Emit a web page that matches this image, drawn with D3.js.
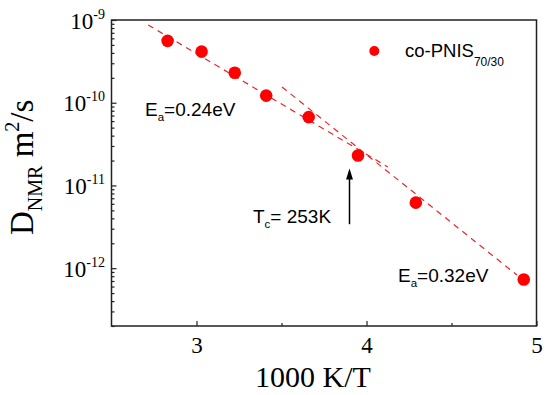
<!DOCTYPE html>
<html>
<head>
<meta charset="utf-8">
<script src="https://cdn.jsdelivr.net/npm/d3@7"></script>
<style>
  body { margin: 0; background: #fff; }
  svg { display: block; }
  .serif { font-family: 'Liberation Serif', 'Times New Roman', serif; }
  .sans { font-family: 'Liberation Sans', Arial, sans-serif; }
</style>
</head>
<body>
<svg id="chart" width="550" height="395"></svg>
<script>
// 1000/T values and measured diffusion coefficients (m^2/s)
const invT = [2.83, 3.03, 3.225, 3.41, 3.66, 3.95, 4.29, 4.925]
const dNMR = [5.6e-10, 4.15e-10, 2.3e-10, 1.22e-10, 6.7e-11, 2.3e-11, 6.2e-12, 7.3e-13]

// dashed Arrhenius fits, [1000/T, D] end points
const fitHigh = [[2.716, 8.7e-10], [4.126, 1.67e-11]]
const fitLow = [[3.503, 1.55e-10], [4.885, 8.26e-13]]

// arrow marking Tc
const arrowX = 3.9
const arrowFrom = 3.4e-12
const arrowTo = 1.6e-11

const xMajor = [3, 4, 5]
const xMinor = [3.5, 4.5]
const yExp = [-9, -10, -11, -12]

const red = '#ff0000'
const dashRed = '#e8262b'

const svg = d3.select('#chart')

const x = d3.scaleLinear().domain([2.5, 5]).range([111.5, 536.5])
const y = d3.scaleLog().domain([2e-13, 1e-9]).range([326, 20])

// minor decade ticks on y
const yMinor = []
for (let e = -13; e <= -10; e++) {
  for (let m = 2; m <= 9; m++) {
    const v = m * Math.pow(10, e)
    if (v >= 2e-13 && v <= 1e-9) yMinor.push(v)
  }
}

const axisStyle = g => {
  g.select('.domain').remove()
  g.selectAll('line').attr('stroke', '#222').attr('stroke-width', 1.2)
}

svg.append('g')
  .attr('transform', 'translate(0,326)')
  .call(d3.axisBottom(x).tickValues(xMajor).tickSize(-5).tickFormat(d3.format('d')))
  .call(axisStyle)
  .call(g => g.selectAll('text')
    .attr('y', 27).attr('dy', 0)
    .attr('class', 'serif')
    .attr('font-size', 23)
    .attr('fill', '#000'))

svg.append('g')
  .attr('transform', 'translate(0,326)')
  .call(d3.axisBottom(x).tickValues(xMinor).tickSize(-3).tickFormat(''))
  .call(axisStyle)

svg.append('g')
  .attr('transform', 'translate(111.5,0)')
  .call(d3.axisLeft(y).tickValues(yExp.map(e => Math.pow(10, e))).tickSize(-5).tickFormat(''))
  .call(axisStyle)

svg.append('g')
  .attr('transform', 'translate(111.5,0)')
  .call(d3.axisLeft(y).tickValues(yMinor).tickSize(-3).tickFormat(''))
  .call(axisStyle)

// y tick labels with superscript exponents
const yLabels = svg.append('g').attr('class', 'serif')
yExp.forEach(e => {
  const t = yLabels.append('text')
    .attr('x', 105)
    .attr('y', y(Math.pow(10, e)) + 8.5)
    .attr('text-anchor', 'end')
    .attr('font-size', 23)
  t.append('tspan').text('10')
  t.append('tspan').attr('font-size', 14).attr('dy', -10).text(String(e))
})

// frame
svg.append('rect')
  .attr('x', 111.5).attr('y', 20)
  .attr('width', 425).attr('height', 306)
  .attr('fill', 'none')
  .attr('stroke', '#222')
  .attr('stroke-width', 1.5)

// fits
const line = d3.line().x(d => x(d[0])).y(d => y(d[1]))
svg.selectAll('path.fit')
  .data([fitHigh, fitLow])
  .enter().append('path')
  .attr('class', 'fit')
  .attr('d', line)
  .attr('fill', 'none')
  .attr('stroke', dashRed)
  .attr('stroke-width', 1.2)
  .attr('stroke-dasharray', '6,5')

// points
svg.selectAll('circle.pt')
  .data(invT.map((v, i) => [v, dNMR[i]]))
  .enter().append('circle')
  .attr('class', 'pt')
  .attr('cx', d => x(d[0]))
  .attr('cy', d => y(d[1]))
  .attr('r', 6.3)
  .attr('fill', red)

// arrow
const ax = x(arrowX)
svg.append('line')
  .attr('x1', ax).attr('x2', ax)
  .attr('y1', y(arrowFrom)).attr('y2', y(arrowTo) + 8)
  .attr('stroke', '#000')
  .attr('stroke-width', 1.5)
svg.append('path')
  .attr('d', `M${ax},${y(arrowTo)} L${ax - 3.5},${y(arrowTo) + 11} L${ax + 3.5},${y(arrowTo) + 11} Z`)
  .attr('fill', '#000')

// annotations
const note = (px, py, main, sub, rest) => {
  const t = svg.append('text')
    .attr('class', 'sans')
    .attr('x', px).attr('y', py)
    .attr('font-size', 19)
    .attr('fill', '#000')
  t.append('tspan').text(main)
  t.append('tspan').attr('font-size', 11.5).attr('dy', 5).text(sub)
  t.append('tspan').attr('dy', -5).text(rest)
}
note(145, 116, 'E', 'a', '=0.24eV')
note(398, 282, 'E', 'a', '=0.32eV')
note(253, 223, 'T', 'c', '= 253K')

// legend
svg.append('circle')
  .attr('cx', 374.3).attr('cy', 51)
  .attr('r', 5)
  .attr('fill', red)
const lg = svg.append('text')
  .attr('class', 'sans')
  .attr('x', 405).attr('y', 57)
  .attr('font-size', 18.5)
lg.append('tspan').text('co-PNIS')
lg.append('tspan').attr('font-size', 12).attr('dy', 9).text('70/30')

// axis titles
svg.append('text')
  .attr('class', 'serif')
  .attr('x', 313).attr('y', 387)
  .attr('text-anchor', 'middle')
  .attr('font-size', 30)
  .text('1000 K/T')

const yt = svg.append('text')
  .attr('class', 'serif')
  .attr('transform', 'translate(33,235) rotate(-90)')
  .attr('font-size', 33)
yt.append('tspan').text('D')
yt.append('tspan').attr('font-size', 20).attr('dy', 9).text('NMR')
yt.append('tspan').attr('dy', -9).text(' m')
yt.append('tspan').attr('font-size', 20).attr('dy', -14).text('2')
yt.append('tspan').attr('dy', 14).text('/s')
</script>
</body>
</html>
